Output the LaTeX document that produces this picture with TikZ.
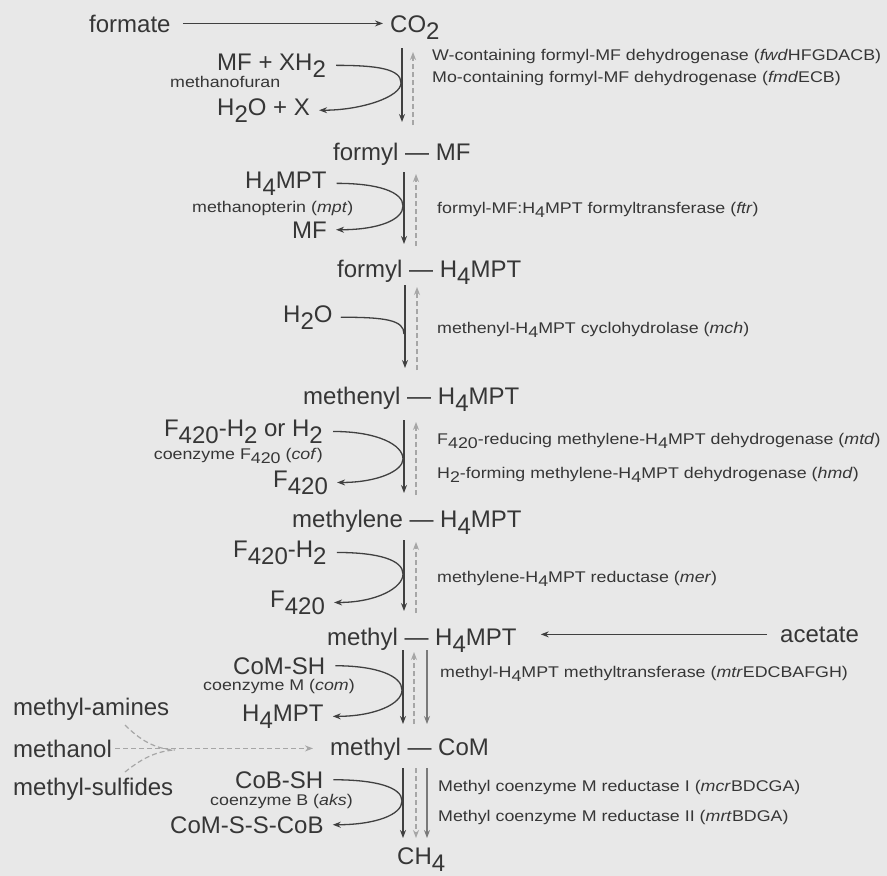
\documentclass[tikz,border=0pt]{standalone}
\usepackage{fontspec}
\setmainfont{Liberation Sans}
\usetikzlibrary{arrows.meta}
\definecolor{bg}{HTML}{E8E8E8}
\definecolor{ink}{HTML}{363636}
\definecolor{ln}{HTML}{404040}
\definecolor{lt}{HTML}{A6A6A6}
\definecolor{mid}{HTML}{7A7A7A}
\newcommand\lo[1]{\raisebox{-0.3em}{#1}}
\newcommand\wide[1]{\scalebox{1.15}[1]{#1}}
\begin{document}
\begin{tikzpicture}[x=1pt,y=-1pt,
  big/.style={font=\fontsize{24}{28}\selectfont, text=ink, inner sep=0pt, anchor=base west},
  bigr/.style={big, anchor=base east},
  sml/.style={font=\fontsize{15.5}{18}\selectfont, text=ink, inner sep=0pt, anchor=base west},
  smlr/.style={sml, anchor=base east},
  tip/.style={-{Stealth[length=8pt,width=6pt]}},
  fwd/.style={ln, line width=1.5pt, tip},
  rev/.style={lt, line width=1.3pt, dash pattern=on 5pt off 3pt, tip},
  alt/.style={mid, line width=1.1pt, tip},
  curve/.style={ln, line width=1.3pt},
  curvea/.style={curve, tip},
  side/.style={lt, line width=1.2pt, dash pattern=on 5pt off 3pt},
  sidea/.style={side, tip},
  feed/.style={ln, line width=1.2pt, tip}]
\fill[bg] (0,0) rectangle (887,876);
\useasboundingbox (0,0) rectangle (887,876);

% ---------- main chain ----------
\node[big] (formate) at (89,32) {formate};
\node[big] (co2) at (390,32) {CO\lo{2}};
\node[big] (fmf) at (333,160) {formyl — MF};
\node[big] (fh4) at (337,277) {formyl — H\lo{4}MPT};
\node[big] (meth) at (303,404) {methenyl — H\lo{4}MPT};
\node[big] (mtl) at (292,527) {methylene — H\lo{4}MPT};
\node[big] (mh4) at (327,645) {methyl — H\lo{4}MPT};
\node[big] (mcom) at (330,755) {methyl — CoM};
\node[big] (ch4) at (397,864) {CH\lo{4}};
\node[big] (acetate) at (780,642) {acetate};
\node[big] (mam) at (13,715) {methyl-amines};
\node[big] (mol) at (13,757) {methanol};
\node[big] (msu) at (13,795) {methyl-sulfides};

% ---------- cofactors ----------
\node[big] (r1) at (217,70) {MF + XH\lo{2}};
\node[sml] (c1) at (170,87) {\wide{methanofuran}};
\node[big] (p1) at (217,115) {H\lo{2}O + X};
\node[big] (r2) at (245,188) {H\lo{4}MPT};
\node[sml] (c2) at (192,212) {\wide{methanopterin (\textit{mpt})}};
\node[big] (p2) at (292,238) {MF};
\node[big] (r3) at (283,322) {H\lo{2}O};
\node[bigr] (r4) at (323,436) {F\lo{420}-H\lo{2} or H\lo{2}};
\node[smlr] (c4) at (323,459) {\wide{coenzyme F\lo{420} (\textit{cof})}};
\node[big] (p4) at (273,487) {F\lo{420}};
\node[big] (r5) at (233,557) {F\lo{420}-H\lo{2}};
\node[big] (p5) at (270,607) {F\lo{420}};
\node[big] (r6) at (233,674) {CoM-SH};
\node[sml] (c6) at (203,690) {\wide{coenzyme M (\textit{com})}};
\node[big] (p6) at (242,721) {H\lo{4}MPT};
\node[big] (r7) at (235,788) {CoB-SH};
\node[sml] (c7) at (210,805) {\wide{coenzyme B (\textit{aks})}};
\node[big] (p7) at (170,833) {CoM-S-S-CoB};

% ---------- enzymes ----------
\node[sml] (e1a) at (432,60) {\wide{W-containing formyl-MF dehydrogenase (\textit{fwd}HFGDACB)}};
\node[sml] (e1b) at (432,82) {\wide{Mo-containing formyl-MF dehydrogenase (\textit{fmd}ECB)}};
\node[sml] (e2) at (437,213) {\wide{formyl-MF:H\lo{4}MPT formyltransferase (\textit{ftr})}};
\node[sml] (e3) at (437,333) {\wide{methenyl-H\lo{4}MPT cyclohydrolase (\textit{mch})}};
\node[sml] (e4a) at (437,444) {\wide{F\lo{420}-reducing methylene-H\lo{4}MPT dehydrogenase (\textit{mtd})}};
\node[sml] (e4b) at (437,478) {\wide{H\lo{2}-forming methylene-H\lo{4}MPT dehydrogenase (\textit{hmd})}};
\node[sml] (e5) at (437,582) {\wide{methylene-H\lo{4}MPT reductase (\textit{mer})}};
\node[sml] (e6) at (440,677) {\wide{methyl-H\lo{4}MPT methyltransferase (\textit{mtr}EDCBAFGH)}};
\node[sml] (e7a) at (438,791) {\wide{Methyl coenzyme M reductase I (\textit{mcr}BDCGA)}};
\node[sml] (e7b) at (438,821) {\wide{Methyl coenzyme M reductase II (\textit{mrt}BDGA)}};

% ---------- coordinates of the step arrows ----------
\coordinate (a1t) at (402,48);  \coordinate (a1b) at (402,122);
\coordinate (b1t) at (413,52);  \coordinate (b1b) at (413,125);
\coordinate (a2t) at (404,172); \coordinate (a2b) at (404,244);
\coordinate (b2t) at (416,174); \coordinate (b2b) at (416,246);
\coordinate (a3t) at (405,285); \coordinate (a3b) at (405,368);
\coordinate (b3t) at (417,287); \coordinate (b3b) at (417,370);
\coordinate (a4t) at (404,420); \coordinate (a4b) at (404,493);
\coordinate (b4t) at (416,422); \coordinate (b4b) at (416,495);
\coordinate (a5t) at (404,540); \coordinate (a5b) at (404,611);
\coordinate (b5t) at (416,542); \coordinate (b5b) at (416,613);
\coordinate (a6t) at (403,650); \coordinate (a6b) at (403,724);
\coordinate (b6t) at (414,652); \coordinate (b6b) at (414,724);
\coordinate (c6t) at (427,650); \coordinate (c6b) at (427,724);
\coordinate (a7t) at (403,768); \coordinate (a7b) at (403,838);
\coordinate (b7t) at (416,768); \coordinate (b7b) at (416,838);
\coordinate (c7t) at (427,768); \coordinate (c7b) at (427,838);

\draw[fwd] (a1t) -- (a1b);  \draw[rev] (b1b) -- (b1t);
\draw[fwd] (a2t) -- (a2b);  \draw[rev] (b2b) -- (b2t);
\draw[fwd] (a3t) -- (a3b);  \draw[rev] (b3b) -- (b3t);
\draw[fwd] (a4t) -- (a4b);  \draw[rev] (b4b) -- (b4t);
\draw[fwd] (a5t) -- (a5b);  \draw[rev] (b5b) -- (b5t);
\draw[fwd] (a6t) -- (a6b);  \draw[rev] (b6b) -- (b6t);  \draw[alt] (c6t) -- (c6b);
\draw[fwd] (a7t) -- (a7b);  \draw[rev] (b7t) -- (b7b);  \draw[alt] (c7t) -- (c7b);

% ---------- touch points ----------
\coordinate (t1) at (401,83);
\coordinate (t2) at (403,206);
\coordinate (t3) at (404,334);
\coordinate (t4) at (403,459);
\coordinate (t5) at (403,574);
\coordinate (t6) at (402,690);
\coordinate (t7) at (402,801);

\draw[curvea] ([xshift=10pt]r1.east) .. controls +(42,0) and +(0,-14) .. (t1) .. controls +(0,14) and +(42,0) .. ([xshift=9pt]p1.east);
\draw[curvea] ([xshift=10pt]r2.east) .. controls +(42,0) and +(0,-14) .. (t2) .. controls +(0,14) and +(42,0) .. ([xshift=9pt]p2.east);
\draw[curve] ([xshift=8pt]r3.east) .. controls +(45,0) and +(0,-14) .. (t3);
\draw[curvea] ([xshift=10pt]r4.east) .. controls +(45,0) and +(0,-14) .. (t4) .. controls +(0,12) and +(40,0) .. ([xshift=9pt]p4.east);
\draw[curvea] ([xshift=10pt]r5.east) .. controls +(42,0) and +(0,-14) .. (t5) .. controls +(0,14) and +(42,0) .. ([xshift=9pt]p5.east);
\draw[curvea] ([xshift=10pt]r6.east) .. controls +(42,0) and +(0,-14) .. (t6) .. controls +(0,14) and +(42,0) .. ([xshift=9pt]p6.east);
\draw[curvea] ([xshift=10pt]r7.east) .. controls +(42,0) and +(0,-14) .. (t7) .. controls +(0,14) and +(42,0) .. ([xshift=9pt]p7.east);

% ---------- feeds ----------
\draw[feed] ([xshift=12pt]formate.east) -- ([xshift=-7pt]co2.west |- formate.east);
\draw[feed] ([xshift=-13pt]acetate.west) -- ([xshift=24pt]mh4.east |- acetate.west);
\coordinate (mj) at (175,750);
\coordinate (ms1) at (125,725);
\coordinate (ms2) at (125,772);
\draw[sidea] ([xshift=3pt]mol.east) -- ([xshift=-17pt]mcom.west |- mol.east);
\draw[side] (ms1) .. controls (140,740) and (155,749) .. (mj);
\draw[side] (ms2) .. controls (140,760) and (155,751) .. (mj);
\end{tikzpicture}
\end{document}
